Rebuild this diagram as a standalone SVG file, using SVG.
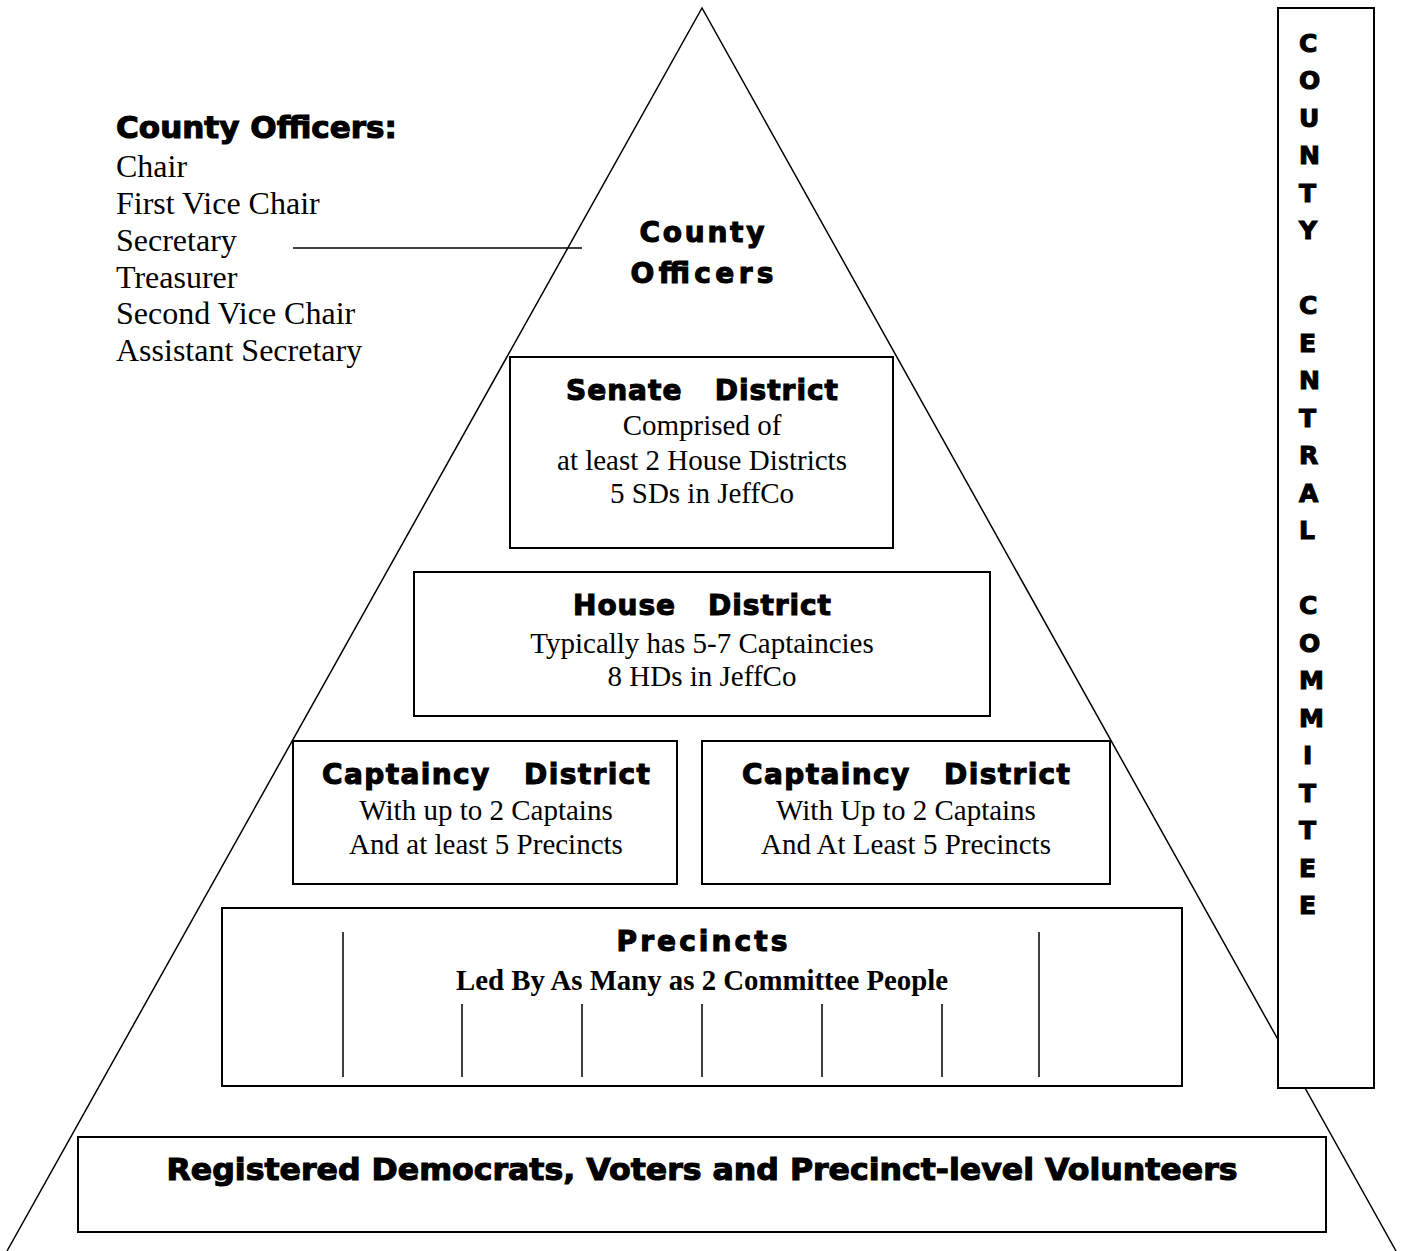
<svg xmlns="http://www.w3.org/2000/svg" width="1404" height="1251" viewBox="0 0 1404 1251">
<style>
.heavy{font-family:"DejaVu Sans","Liberation Sans",sans-serif;font-weight:bold;fill:#000;stroke:#000;stroke-width:1.1}
.serif{font-family:"Liberation Serif","Times New Roman",serif;fill:#000}
.body{font-size:29px}
.box{fill:#fff;stroke:#000;stroke-width:2}
.line{fill:none;stroke:#000;stroke-width:1.5}
.mid{text-anchor:middle}
</style>
<rect width="1404" height="1251" fill="#fff"/>
<g id="connectors">
<polyline class="line" points="7,1251 702,8 1396,1251"/>
<line class="line" x1="293" y1="248" x2="582" y2="248"/>
</g>
<g id="officers-list">
<text class="heavy" x="116" y="138" font-size="30" textLength="281" lengthAdjust="spacingAndGlyphs">County Officers:</text>
<text class="serif" x="116" y="177" font-size="32">Chair</text>
<text class="serif" x="116" y="214" font-size="32">First Vice Chair</text>
<text class="serif" x="116" y="251" font-size="32">Secretary</text>
<text class="serif" x="116" y="288" font-size="32">Treasurer</text>
<text class="serif" x="116" y="324" font-size="32">Second Vice Chair</text>
<text class="serif" x="116" y="361" font-size="32">Assistant Secretary</text>
</g>
<g id="county-officers">
<text class="heavy mid" x="702" y="242" font-size="28" textLength="125">County</text>
<text class="heavy mid" x="702" y="283" font-size="28" textLength="143">Officers</text>
</g>
<g id="senate-district">
<rect class="box" x="510" y="357" width="383" height="191"/>
<text class="heavy mid" x="702" y="400" font-size="28" textLength="272" xml:space="preserve">Senate   District</text>
<text class="serif body mid" x="702" y="435">Comprised of</text>
<text class="serif body mid" x="702" y="470">at least 2 House Districts</text>
<text class="serif body mid" x="702" y="503">5 SDs in JeffCo</text>
</g>
<g id="house-district">
<rect class="box" x="414" y="572" width="576" height="144"/>
<text class="heavy mid" x="702" y="615" font-size="28" textLength="258" xml:space="preserve">House   District</text>
<text class="serif body mid" x="702" y="653">Typically has 5-7 Captaincies</text>
<text class="serif body mid" x="702" y="686">8 HDs in JeffCo</text>
</g>
<g id="captaincy-left">
<rect class="box" x="293" y="741" width="384" height="143"/>
<text class="heavy mid" x="486" y="784" font-size="28" textLength="328" xml:space="preserve">Captaincy   District</text>
<text class="serif body mid" x="486" y="820">With up to 2 Captains</text>
<text class="serif body mid" x="486" y="854">And at least 5 Precincts</text>
</g>
<g id="captaincy-right">
<rect class="box" x="702" y="741" width="408" height="143"/>
<text class="heavy mid" x="906" y="784" font-size="28" textLength="328" xml:space="preserve">Captaincy   District</text>
<text class="serif body mid" x="906" y="820">With Up to 2 Captains</text>
<text class="serif body mid" x="906" y="854">And At Least 5 Precincts</text>
</g>
<g id="precincts">
<rect class="box" x="222" y="908" width="960" height="178"/>
<text class="heavy mid" x="702" y="951" font-size="28" textLength="171">Precincts</text>
<text class="serif body mid" x="702" y="990" font-weight="bold" textLength="492" lengthAdjust="spacingAndGlyphs">Led By As Many as 2 Committee People</text>
<g stroke="#000" stroke-width="1.5">
<line x1="343" y1="932" x2="343" y2="1077"/>
<line x1="1039" y1="932" x2="1039" y2="1077"/>
<line x1="462" y1="1004" x2="462" y2="1077"/>
<line x1="582" y1="1004" x2="582" y2="1077"/>
<line x1="702" y1="1004" x2="702" y2="1077"/>
<line x1="822" y1="1004" x2="822" y2="1077"/>
<line x1="942" y1="1004" x2="942" y2="1077"/>
</g>
</g>
<g id="registered">
<rect class="box" x="78" y="1137" width="1248" height="95"/>
<text class="heavy mid" x="702" y="1180" font-size="30" textLength="1071" lengthAdjust="spacingAndGlyphs">Registered Democrats, Voters and Precinct-level Volunteers</text>
</g>
<g id="county-central-committee">
<rect class="box" x="1278" y="8" width="96" height="1080"/>
<g class="heavy" font-size="25">
<text x="1299" y="52">C</text>
<text x="1299" y="89">O</text>
<text x="1299" y="127">U</text>
<text x="1299" y="164">N</text>
<text x="1299" y="202">T</text>
<text x="1299" y="239">Y</text>
<text x="1299" y="314">C</text>
<text x="1299" y="352">E</text>
<text x="1299" y="389">N</text>
<text x="1299" y="427">T</text>
<text x="1299" y="464">R</text>
<text x="1299" y="502">A</text>
<text x="1299" y="539">L</text>
<text x="1299" y="614">C</text>
<text x="1299" y="652">O</text>
<text x="1299" y="689">M</text>
<text x="1299" y="727">M</text>
<text x="1303" y="764">I</text>
<text x="1299" y="802">T</text>
<text x="1299" y="839">T</text>
<text x="1299" y="877">E</text>
<text x="1299" y="914">E</text>
</g>
</g>
</svg>
